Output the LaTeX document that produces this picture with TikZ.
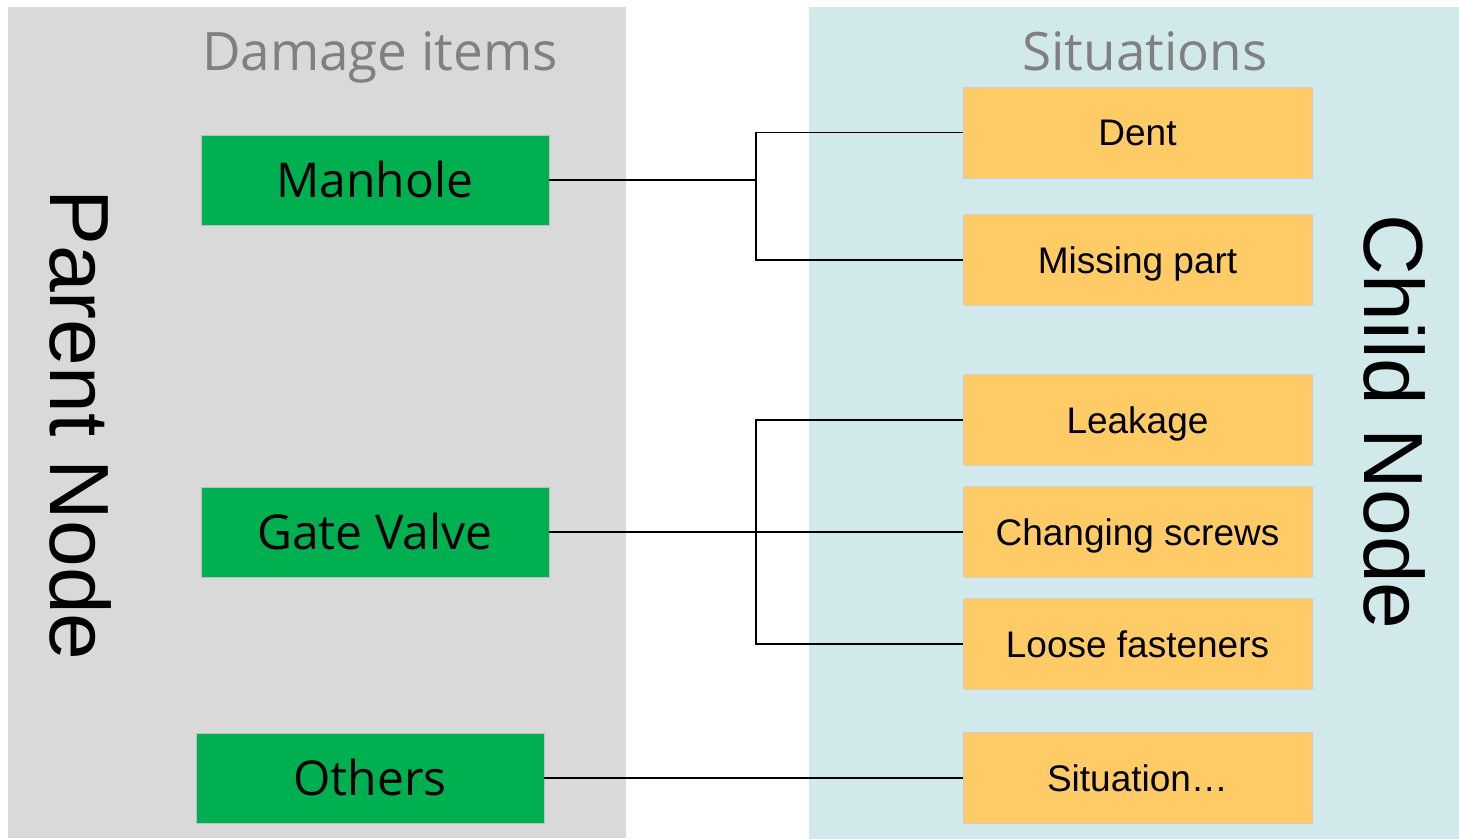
\documentclass[tikz,border=0pt]{standalone}
\usepackage{fontspec}
\setmainfont{Liberation Sans}
\newfontfamily\segoe{Open Sans}
\definecolor{panelgrey}{RGB}{217,217,217}
\definecolor{panelblue}{RGB}{210,233,236}
\definecolor{boxgreen}{RGB}{0,176,80}
\definecolor{boxorange}{RGB}{254,203,102}
\definecolor{titlegrey}{RGB}{128,128,128}
\tikzset{
  parentbox/.style={rectangle, fill=boxgreen, draw=black!25, line width=0.8pt,
    minimum width=348pt, minimum height=90pt, inner sep=0pt,
    text height=34pt, text depth=0pt,
    font=\segoe\fontsize{48}{56}\selectfont},
  childbox/.style={rectangle, fill=boxorange, draw=black!20, line width=0.8pt,
    minimum width=349pt, minimum height=91pt, inner sep=0pt,
    text height=26.5pt, text depth=0pt,
    font=\fontsize{37}{44}\selectfont},
  paneltitle/.style={text=titlegrey, inner sep=0pt, anchor=base, font=\segoe\fontsize{53}{60}\selectfont},
  sidelabel/.style={rotate=-90, inner sep=0pt, font=\fontsize{84}{90}\selectfont},
  link/.style={draw=black, line width=1.6pt}
}
\begin{document}
\begin{tikzpicture}[x=1pt,y=-1pt]
\useasboundingbox (0,0) rectangle (1459,839);
\fill[white] (0,0) rectangle (1459,839);
% panels
\fill[panelgrey] (8,7) rectangle (626,838);
\fill[panelblue] (809,7) rectangle (1459,839);
% titles
\node[paneltitle] (t1) at (380,70) {Damage items};
\node[paneltitle] (t2) at (1145,70) {Situations};
\node[sidelabel] (pn) at (81,425) {Parent Node};
\node[sidelabel] (cn) at (1395,422) {Child Node};
% parent boxes
\node[parentbox] (man) at (375,180) {Manhole};
\node[parentbox] (gv) at (375,532) {Gate Valve};
\node[parentbox] (oth) at (370,778) {Others};
% child boxes
\node[childbox] (dent) at (1137.5,132.5) {Dent};
\node[childbox] (miss) at (1137.5,260) {Missing part};
\node[childbox] (leak) at (1137.5,420) {Leakage};
\node[childbox] (chg) at (1137.5,532) {Changing screws};
\node[childbox] (loose) at (1137.5,644) {Loose fasteners};
\node[childbox] (sit) at (1137.5,778) {Situation…};
% connectors
\coordinate (j1) at (756,180);
\coordinate (j2) at (756,532);
\draw[link] (man.east) -- (j1) |- (dent.west);
\draw[link] (j1) |- (miss.west);
\draw[link] (gv.east) -- (chg.west);
\draw[link] (j2) |- (leak.west);
\draw[link] (j2) |- (loose.west);
\draw[link] (oth.east) -- (sit.west);
\end{tikzpicture}
\end{document}
